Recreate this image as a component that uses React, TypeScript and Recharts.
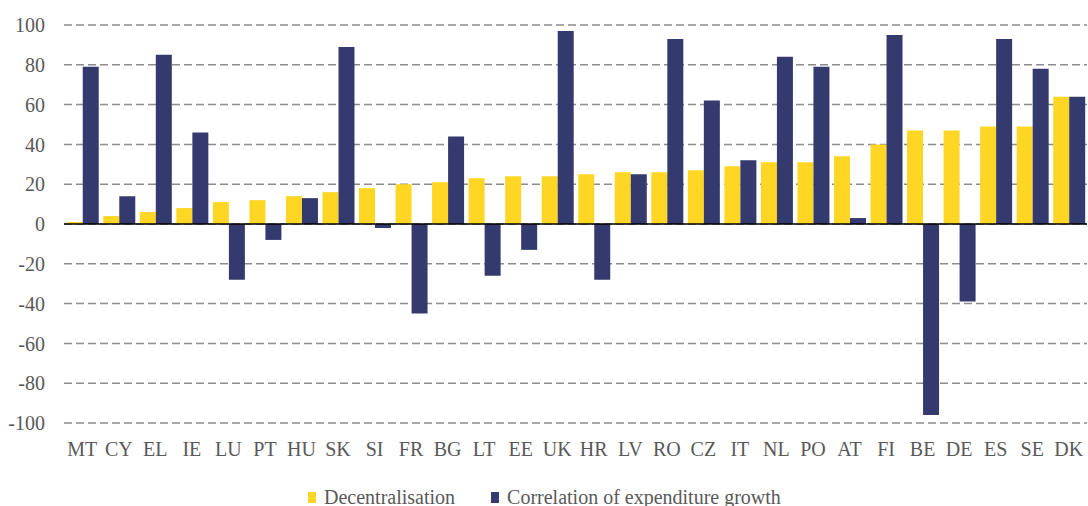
import React from 'react';
import {
  BarChart,
  Bar,
  XAxis,
  YAxis,
  CartesianGrid,
  ReferenceLine,
  Legend,
} from 'recharts';

const countries = [
  'MT', 'CY', 'EL', 'IE', 'LU', 'PT', 'HU', 'SK', 'SI', 'FR', 'BG', 'LT', 'EE', 'UK',
  'HR', 'LV', 'RO', 'CZ', 'IT', 'NL', 'PO', 'AT', 'FI', 'BE', 'DE', 'ES', 'SE', 'DK',
];
const decentralisation = [
  1, 4, 6, 8, 11, 12, 14, 16, 18, 20, 21, 23, 24, 24,
  25, 26, 26, 27, 29, 31, 31, 34, 40, 47, 47, 49, 49, 64,
];
const correlation = [
  79, 14, 85, 46, -28, -8, 13, 89, -2, -45, 44, -26, -13, 97,
  -28, 25, 93, 62, 32, 84, 79, 3, 95, -96, -39, 93, 78, 64,
];
const yTicks = [-100, -80, -60, -40, -20, 0, 20, 40, 60, 80, 100];

const YELLOW = '#FFD624';
const NAVY = '#353A6E';
const TEXT = '#595959';
const FONT = '"Liberation Serif", "Times New Roman", serif';

const chartData = countries.map((name, i) => ({
  name,
  dec: decentralisation[i],
  corr: correlation[i],
}));

const legendItems = [
  { label: 'Decentralisation', color: YELLOW },
  { label: 'Correlation of expenditure growth', color: NAVY },
];

const ChartLegend = () => (
  <div style={{ display: 'flex', alignItems: 'center', fontFamily: FONT, fontSize: 20, color: TEXT }}>
    {legendItems.map((item, i) => (
      <div key={item.label} style={{ display: 'flex', alignItems: 'center', marginRight: i === 0 ? 36 : 0 }}>
        <span style={{ display: 'inline-block', width: 8, height: 11, background: item.color, marginRight: 8 }} />
        <span style={{ lineHeight: '20px' }}>{item.label}</span>
      </div>
    ))}
  </div>
);

const App: React.FC = () => {
  return (
    <div style={{ position: 'absolute', left: 0, top: 0, width: 1088, height: 506, background: '#fff' }}>
      <BarChart
        width={1088}
        height={506}
        data={chartData}
        margin={{ top: 25, right: 1, bottom: 0, left: 0 }}
        barCategoryGap="7.5%"
        barGap={0}
      >
        <CartesianGrid
          vertical={false}
          stroke="#8c8c8c"
          strokeWidth={1.5}
          strokeDasharray="8 4"
        />
        <XAxis
          dataKey="name"
          axisLine={false}
          tickLine={false}
          height={83}
          tickMargin={13}
          interval={0}
          tick={{ fill: TEXT, fontSize: 20, fontFamily: FONT }}
        />
        <YAxis
          domain={[-100, 100]}
          ticks={yTicks}
          width={64}
          axisLine={false}
          tickLine={false}
          tickMargin={13}
          interval={0}
          tick={{ fill: TEXT, fontSize: 20, fontFamily: FONT }}
        />
        <Bar dataKey="dec" name="Decentralisation" fill={YELLOW} isAnimationActive={false} />
        <Bar dataKey="corr" name="Correlation of expenditure growth" fill={NAVY} isAnimationActive={false} />
        <ReferenceLine y={0} stroke="#000" strokeWidth={1.5} />
        <Legend
          layout="horizontal"
          verticalAlign="middle"
          align="center"
          content={() => <ChartLegend />}
          wrapperStyle={{ left: 308, top: 487, width: 520 }}
        />
      </BarChart>
    </div>
  );
};

export default App;
